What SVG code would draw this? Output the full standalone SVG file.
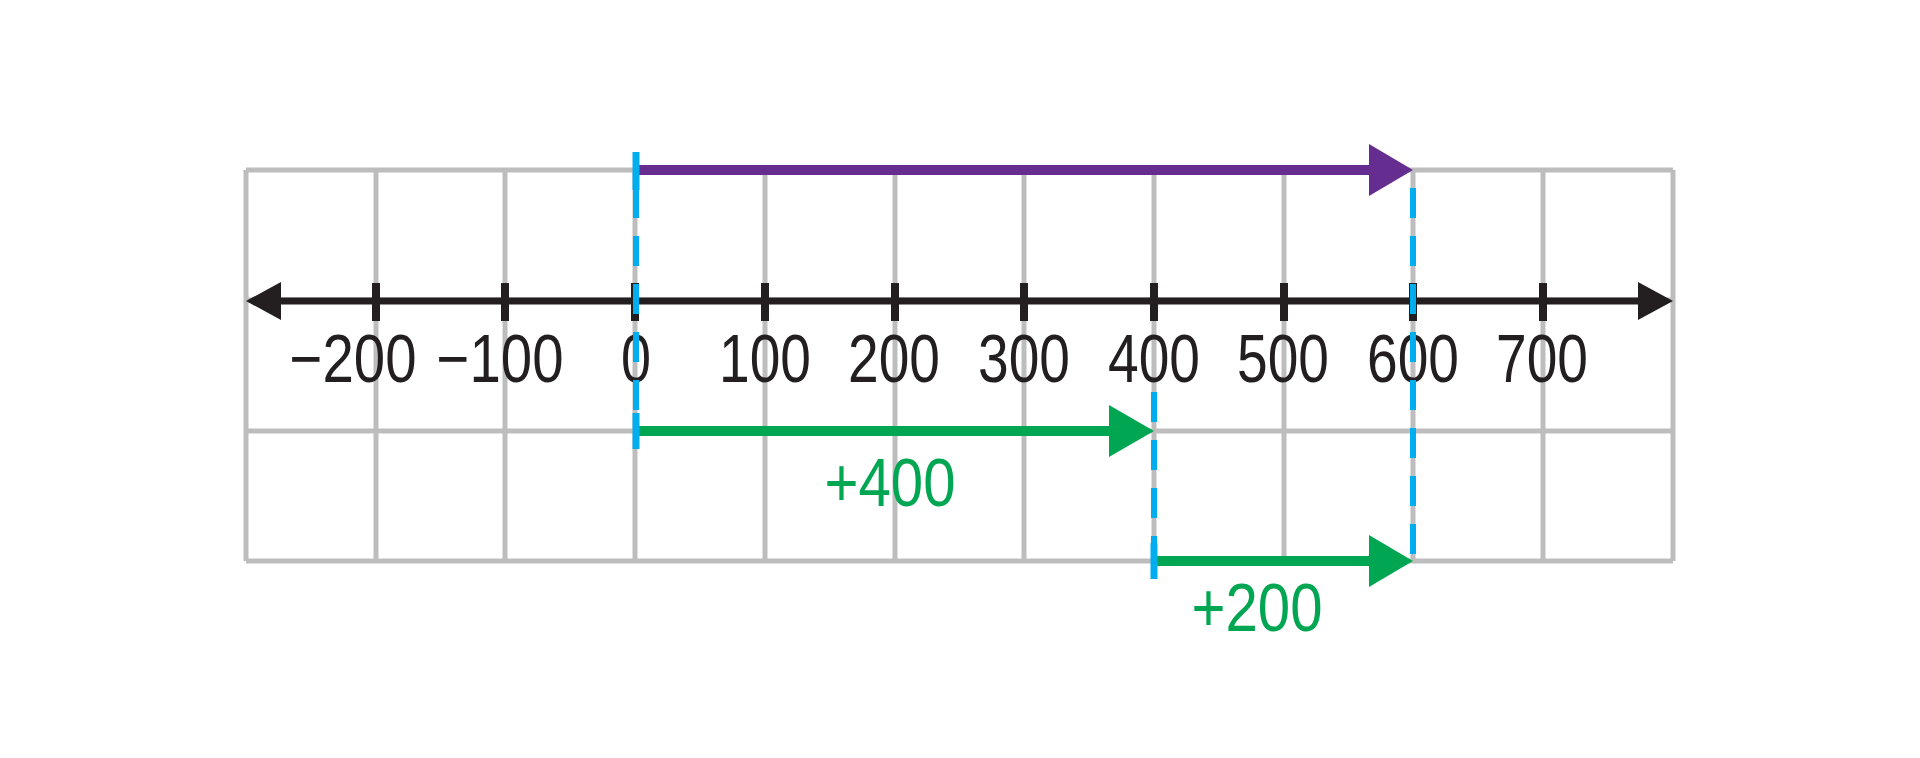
<svg xmlns="http://www.w3.org/2000/svg" width="1920" height="758" viewBox="0 0 1920 758">
<style>
.grid{stroke:#bdbdbd;stroke-width:5;fill:none}
.axis{stroke:#231f20;stroke-width:7;fill:none}
.tick{stroke:#231f20;stroke-width:8}
.lbl{font-family:"Liberation Sans",Arial,sans-serif;font-size:68px;fill:#231f20;text-anchor:middle}
.glbl{font-family:"Liberation Sans",Arial,sans-serif;font-size:68px;fill:#00a651;text-anchor:middle}
.dash{stroke:#00aeef;stroke-width:6;stroke-dasharray:30 18;fill:none}
.stick{stroke:#00aeef;stroke-width:7}
.purple{stroke:#662d91;stroke-width:10}
.green{stroke:#00a651;stroke-width:10}
</style>
<rect width="1920" height="758" fill="#ffffff"/>
<g id="grid">
<line class="grid" x1="246" y1="170" x2="1673" y2="170"/>
<line class="grid" x1="246" y1="300" x2="1673" y2="300"/>
<line class="grid" x1="246" y1="431" x2="1673" y2="431"/>
<line class="grid" x1="246" y1="561" x2="1673" y2="561"/>
<line class="grid" x1="246" y1="170" x2="246" y2="561"/>
<line class="grid" x1="376" y1="170" x2="376" y2="561"/>
<line class="grid" x1="505" y1="170" x2="505" y2="561"/>
<line class="grid" x1="635" y1="170" x2="635" y2="561"/>
<line class="grid" x1="765" y1="170" x2="765" y2="561"/>
<line class="grid" x1="895" y1="170" x2="895" y2="561"/>
<line class="grid" x1="1024" y1="170" x2="1024" y2="561"/>
<line class="grid" x1="1154" y1="170" x2="1154" y2="561"/>
<line class="grid" x1="1284" y1="170" x2="1284" y2="561"/>
<line class="grid" x1="1413" y1="170" x2="1413" y2="561"/>
<line class="grid" x1="1543" y1="170" x2="1543" y2="561"/>
<line class="grid" x1="1673" y1="170" x2="1673" y2="561"/>
</g>
<g id="number-line">
<line class="axis" x1="276" y1="301" x2="1643" y2="301"/>
<polygon points="246,301 281,282 281,320" fill="#231f20"/>
<polygon points="1673,301 1638,282 1638,320" fill="#231f20"/>
<line class="tick" x1="376" y1="283" x2="376" y2="321"/>
<line class="tick" x1="505" y1="283" x2="505" y2="321"/>
<line class="tick" x1="635" y1="283" x2="635" y2="321"/>
<line class="tick" x1="765" y1="283" x2="765" y2="321"/>
<line class="tick" x1="895" y1="283" x2="895" y2="321"/>
<line class="tick" x1="1024" y1="283" x2="1024" y2="321"/>
<line class="tick" x1="1154" y1="283" x2="1154" y2="321"/>
<line class="tick" x1="1284" y1="283" x2="1284" y2="321"/>
<line class="tick" x1="1413" y1="283" x2="1413" y2="321"/>
<line class="tick" x1="1543" y1="283" x2="1543" y2="321"/>
</g>
<g id="labels">
<text class="lbl" x="353" y="382" textLength="127" lengthAdjust="spacingAndGlyphs">−200</text>
<text class="lbl" x="500" y="382" textLength="127" lengthAdjust="spacingAndGlyphs">−100</text>
<text class="lbl" x="636" y="382" textLength="30" lengthAdjust="spacingAndGlyphs">0</text>
<text class="lbl" x="765" y="382" textLength="92" lengthAdjust="spacingAndGlyphs">100</text>
<text class="lbl" x="894" y="382" textLength="92" lengthAdjust="spacingAndGlyphs">200</text>
<text class="lbl" x="1024" y="382" textLength="92" lengthAdjust="spacingAndGlyphs">300</text>
<text class="lbl" x="1154" y="382" textLength="92" lengthAdjust="spacingAndGlyphs">400</text>
<text class="lbl" x="1283" y="382" textLength="92" lengthAdjust="spacingAndGlyphs">500</text>
<text class="lbl" x="1413" y="382" textLength="92" lengthAdjust="spacingAndGlyphs">600</text>
<text class="lbl" x="1542" y="382" textLength="92" lengthAdjust="spacingAndGlyphs">700</text>
</g>
<g id="guides">
<line class="dash" x1="636" y1="188" x2="636" y2="413"/>
<line class="dash" x1="1154" y1="392" x2="1154" y2="543"/>
<line class="dash" x1="1413" y1="188" x2="1413" y2="561"/>
</g>
<g id="connectors">
<g id="sum-arrow">
<line class="purple" x1="636" y1="170" x2="1372" y2="170"/>
<polygon points="1413,170 1369,144 1369,196" fill="#662d91"/>
<line class="stick" x1="636" y1="152" x2="636" y2="190"/>
</g>
<g id="step1-arrow">
<line class="green" x1="636" y1="431" x2="1112" y2="431"/>
<polygon points="1154,431 1109,405 1109,457" fill="#00a651"/>
<line class="stick" x1="636" y1="413" x2="636" y2="449"/>
</g>
<g id="step2-arrow">
<line class="green" x1="1154" y1="561" x2="1372" y2="561"/>
<polygon points="1413,561 1369,535 1369,587" fill="#00a651"/>
<line class="stick" x1="1154" y1="543" x2="1154" y2="579"/>
</g>
</g>
<g id="step-labels">
<text class="glbl" x="890" y="506" textLength="131" lengthAdjust="spacingAndGlyphs">+400</text>
<text class="glbl" x="1257" y="631" textLength="131" lengthAdjust="spacingAndGlyphs">+200</text>
</g>
</svg>
